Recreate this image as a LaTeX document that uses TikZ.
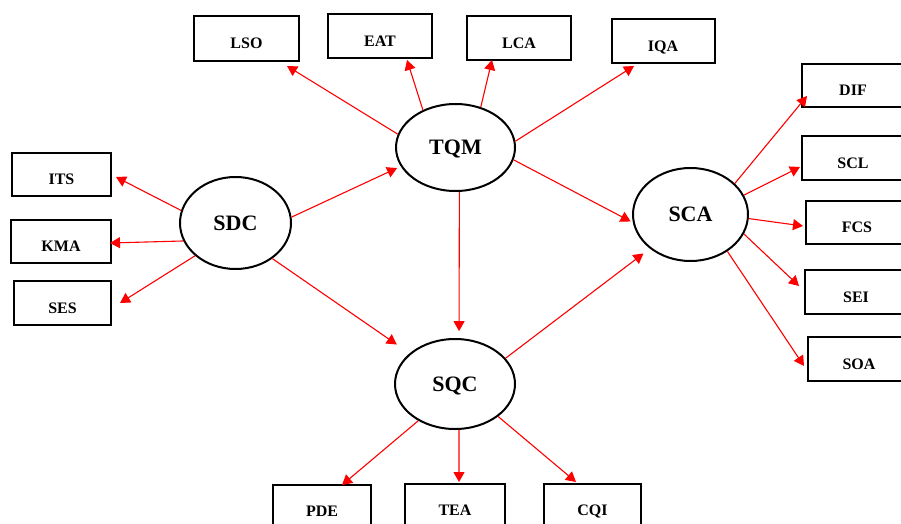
\documentclass[tikz,border=0pt]{standalone}
\usepackage{fontspec}
\setmainfont{Liberation Serif}
\usetikzlibrary{shapes.geometric,arrows.meta}
\begin{document}
\begin{tikzpicture}[x=1pt,y=-1pt,
  lat/.style={draw, ellipse, line width=2, inner sep=0,
    font=\fontsize{22}{26}\selectfont\bfseries, text height=14.6, text depth=0},
  obs/.style={draw, rectangle, line width=2, inner sep=0,
    minimum width=102, minimum height=43,
    font=\fontsize{16}{19}\selectfont\bfseries, text height=20.6, text depth=0},
  arr/.style={draw=red, line width=1.1, -{Triangle[length=10,width=11]}, color=red}]
\useasboundingbox (0,0) rectangle (901,524);
\fill[white] (0,0) rectangle (901,524);
\clip (0,0) rectangle (901,524);

% latent variables
\node[lat, minimum width=119, minimum height=87] (tqm) at (455.5,147.5) {TQM};
\node[lat, minimum width=111, minimum height=92] (sdc) at (235.5,223) {SDC};
\node[lat, minimum width=115, minimum height=93] (sca) at (690.5,214.5) {SCA};
\node[lat, minimum width=120, minimum height=90] (sqc) at (455,384) {SQC};

% indicator boxes
\node[obs, minimum width=105, minimum height=45] (lso) at (246.5,38.5) {LSO};
\node[obs, minimum width=104, minimum height=44] (eat) at (380,36) {EAT};
\node[obs, minimum width=104, minimum height=44] (lca) at (519,38.5) {LCA};
\node[obs, minimum width=103, minimum height=44] (iqa) at (663,41) {IQA};
\node[obs, minimum width=99] (its) at (61.5,174.5) {ITS};
\node[obs, minimum width=100] (kma) at (61,241.5) {KMA};
\node[obs, minimum width=97, minimum height=44] (ses) at (62.5,303) {SES};
\node[obs] (dif) at (853,85.5) {DIF};
\node[obs, minimum height=44] (scl) at (853,158) {SCL};
\node[obs] (fcs) at (857,222.5) {FCS};
\node[obs, minimum height=44] (sei) at (856,292) {SEI};
\node[obs, minimum height=44] (soa) at (859,359) {SOA};
\node[obs, minimum width=98] (pde) at (322,506.5) {PDE};
\node[obs, minimum width=100] (tea) at (455,505.5) {TEA};
\node[obs, minimum width=97] (cqi) at (592.5,505.5) {CQI};

% arrow tips (free ends)
\coordinate (tLSO) at (287,66);
\coordinate (tEAT) at (407,60);
\coordinate (tLCA) at (492,60);
\coordinate (tIQA) at (634,66);
\coordinate (tITS) at (116,177);
\coordinate (tKMA) at (110,243);
\coordinate (tSES) at (120,303);
\coordinate (tDIF) at (807,96);
\coordinate (tSCL) at (800,167);
\coordinate (tFCS) at (803,226);
\coordinate (tSEI) at (799,286);
\coordinate (tSOA) at (804,366);
\coordinate (tPDE) at (342,485);
\coordinate (tTEA) at (459,482);
\coordinate (tCQI) at (576,482);

% TQM indicators
\draw[arr] (tqm.167) -- (tLSO);
\draw[arr] (tqm.131) -- (tEAT);
\draw[arr] (tqm.58) -- (tLCA);
\draw[arr] (tqm.6.5) -- (tIQA);
% SDC indicators
\draw[arr] (sdc.167) -- (tITS);
\draw[arr] (sdc.199.6) -- (tKMA);
\draw[arr] (sdc.219.5) -- (tSES);
% SCA indicators
\draw[arr] (sca.35.8) -- (tDIF);
\draw[arr] (sca.20.5) -- (tSCL);
\draw[arr] (sca.-4.2) -- (tFCS);
\draw[arr] (sca.-20.3) -- (tSEI);
\draw[arr] (sca.-45) -- (tSOA);
% SQC indicators
\draw[arr] (sqc.225.8) -- (tPDE);
\draw[arr] (sqc.275) -- (tTEA);
\draw[arr] (sqc.323.3) -- (tCQI);

% structural paths
\draw[arr, shorten >=4] (sdc.6.2) -- (tqm.199);
\draw[arr, shorten >=15.5] (sdc.316.8) -- (sqc.146.5);
\draw[arr, shorten >=7] (tqm.275) -- (sqc.85);
\draw[arr, shorten >=2.5] (tqm.348) -- (sca.188.5);
\draw[arr, shorten >=8] (sqc.27) -- (sca.220.3);
\end{tikzpicture}
\end{document}
